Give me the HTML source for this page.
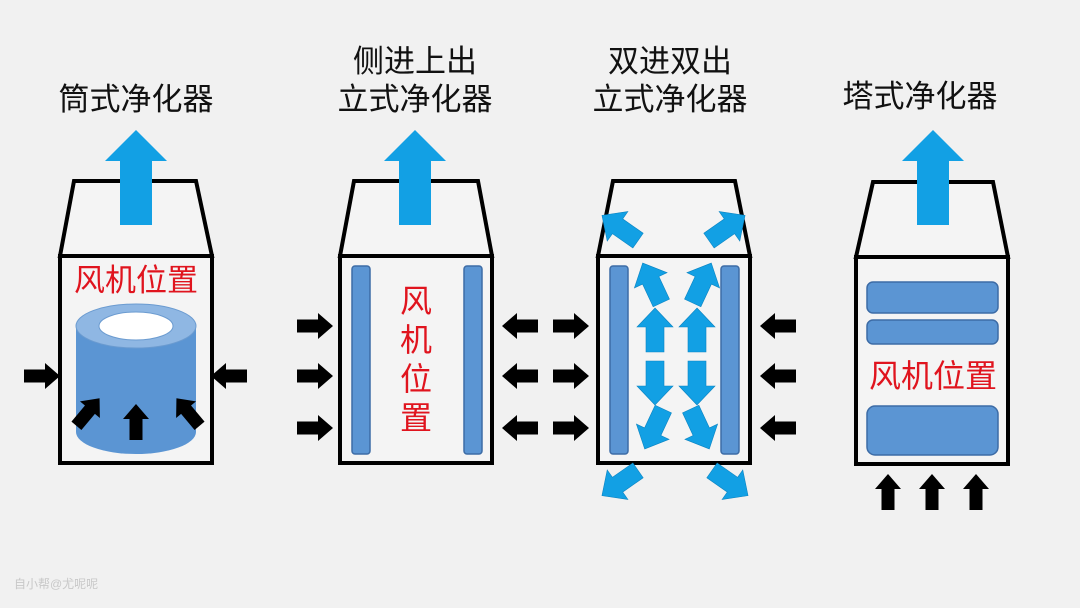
<!DOCTYPE html>
<html><head><meta charset="utf-8"><style>
html,body{margin:0;padding:0;background:#f1f1f1;}
svg{display:block}
text{font-family:"Liberation Sans","Noto Sans CJK SC",sans-serif;}
</style></head><body>
<svg width="1080" height="608" viewBox="0 0 1080 608" xmlns="http://www.w3.org/2000/svg">
<defs>
<path id="bup" d="M0,-47 L31,-16 L16,-16 L16,48 L-16,48 L-16,-16 L-31,-16 Z" fill="#12a0e4"/>
<path id="sup" d="M0,-22 L18,-3 L9,-3 L9,22 L-9,22 L-9,-3 L-18,-3 Z" fill="#12a0e4" stroke="#0b84c2" stroke-width="0.6"/>
<path id="kr" d="M-18,-6.5 L3,-6.5 L3,-13 L18,0 L3,13 L3,6.5 L-18,6.5 Z" fill="#000"/>
</defs>
<rect width="1080" height="608" fill="#f1f1f1"/>

<!-- titles -->
<g font-size="31" fill="#111" text-anchor="middle">
<text x="136" y="110">筒式净化器</text>
<text x="415" y="72">侧进上出</text>
<text x="415" y="110">立式净化器</text>
<text x="670" y="72">双进双出</text>
<text x="670" y="110">立式净化器</text>
<text x="920" y="107">塔式净化器</text>
</g>

<g fill="#f4f4f4" stroke="#000" stroke-width="4" stroke-linejoin="miter">
<path d="M74,181 L196,181 L212,256 L60,256 Z"/>
<rect x="60" y="256" width="152" height="207"/>
<path d="M354,181 L478,181 L492,256 L340,256 Z"/>
<rect x="340" y="256" width="152" height="207"/>
<path d="M613,181 L735,181 L750,256 L598,256 Z"/>
<rect x="598" y="256" width="152" height="207"/>
<path d="M873,182 L993,182 L1008,257 L856,257 Z"/>
<rect x="856" y="257" width="152" height="207"/>
</g>

<use href="#bup" transform="translate(136,177)"/>
<use href="#bup" transform="translate(415,177)"/>
<use href="#bup" transform="translate(933,177)"/>

<!-- unit1 cylinder -->
<path d="M76,326 L76,432 A60,22 0 0 0 196,432 L196,326 Z" fill="#5b95d3"/>
<ellipse cx="136" cy="326" rx="60" ry="22" fill="#8fb7e3" stroke="#6b9bd0" stroke-width="1"/>
<ellipse cx="136" cy="326" rx="37" ry="14" fill="#fff" stroke="#6b9bd0" stroke-width="1"/>
<text x="136" y="291" font-size="31" fill="#e0141e" text-anchor="middle">风机位置</text>
<use href="#kr" transform="translate(42,376)"/>
<use href="#kr" transform="translate(229,376) rotate(180)"/>
<use href="#kr" transform="translate(136,422) rotate(-90)"/>
<use href="#kr" transform="translate(88,412) rotate(-50)"/>
<use href="#kr" transform="translate(188,412) rotate(-130)"/>

<g fill="#5b95d3" stroke="#3d6ca6" stroke-width="1.5">
<rect x="352" y="266" width="18" height="188" rx="3"/>
<rect x="464" y="266" width="18" height="188" rx="3"/>
<rect x="610" y="266" width="18" height="188" rx="3"/>
<rect x="721" y="266" width="18" height="188" rx="3"/>
<rect x="867" y="282" width="131" height="31" rx="6"/>
<rect x="867" y="320" width="131" height="24" rx="6"/>
<rect x="867" y="406" width="131" height="49" rx="8"/>
</g>
<g font-size="32" fill="#e0141e" text-anchor="middle">
<text x="416" y="312">风</text>
<text x="416" y="351">机</text>
<text x="416" y="390">位</text>
<text x="416" y="429">置</text>
<text x="933" y="387">风机位置</text>
</g>
<use href="#kr" transform="translate(315,326)"/>
<use href="#kr" transform="translate(315,376)"/>
<use href="#kr" transform="translate(315,428)"/>
<use href="#kr" transform="translate(520,326) rotate(180)"/>
<use href="#kr" transform="translate(520,376) rotate(180)"/>
<use href="#kr" transform="translate(520,428) rotate(180)"/>

<use href="#kr" transform="translate(571,326)"/>
<use href="#kr" transform="translate(571,376)"/>
<use href="#kr" transform="translate(571,428)"/>
<use href="#kr" transform="translate(778,326) rotate(180)"/>
<use href="#kr" transform="translate(778,376) rotate(180)"/>
<use href="#kr" transform="translate(778,428) rotate(180)"/>
<use href="#sup" transform="translate(655,330)"/>
<use href="#sup" transform="translate(697,330)"/>
<use href="#sup" transform="translate(655,383) rotate(180)"/>
<use href="#sup" transform="translate(697,383) rotate(180)"/>
<use href="#sup" transform="translate(652,283) rotate(-25)"/>
<use href="#sup" transform="translate(702,283) rotate(25)"/>
<use href="#sup" transform="translate(654,429) rotate(-155)"/>
<use href="#sup" transform="translate(700,429) rotate(155)"/>
<use href="#sup" transform="translate(620,228) rotate(-55)"/>
<use href="#sup" transform="translate(727,228) rotate(55)"/>
<use href="#sup" transform="translate(620,483) rotate(-125)"/>
<use href="#sup" transform="translate(730,483) rotate(125)"/>

<use href="#kr" transform="translate(888,492) rotate(-90)"/>
<use href="#kr" transform="translate(932,492) rotate(-90)"/>
<use href="#kr" transform="translate(976,492) rotate(-90)"/>

<text x="14" y="588" font-size="12" fill="#c8c8c8">自小帮@尤呢呢</text>
</svg>
</body></html>
